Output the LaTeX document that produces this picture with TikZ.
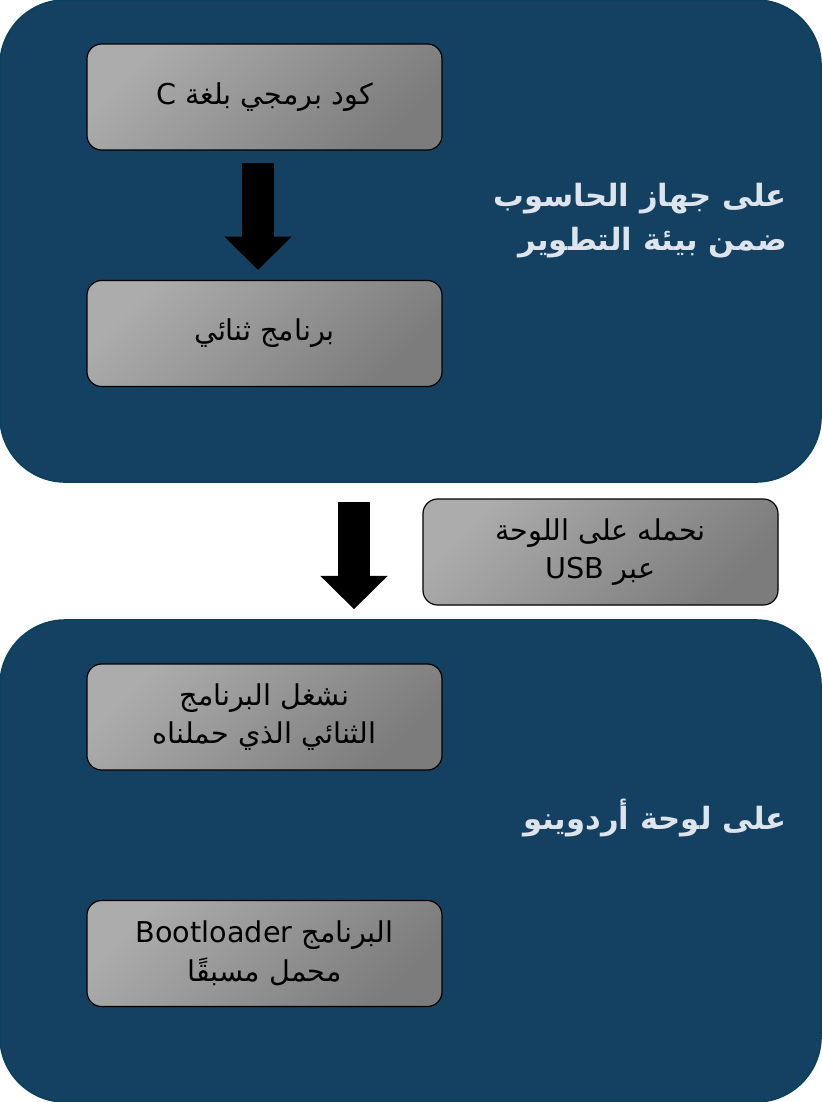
\documentclass[tikz,border=0pt]{standalone}
\usepackage{fontspec}
\newfontfamily\arabicfont[Script=Arabic]{DejaVu Sans}
\TeXXeTstate=1
\usetikzlibrary{arrows.meta,calc}
\definecolor{panelblue}{RGB}{20,64,97}
\definecolor{paneledge}{RGB}{10,66,90}
\definecolor{labelgray}{RGB}{222,228,235}
\definecolor{boxlight}{RGB}{172,172,172}
\definecolor{boxdark}{RGB}{124,124,124}
\tikzset{
  panel/.style={draw=paneledge, fill=panelblue, line width=1.2pt, rounded corners=49pt,
    minimum width=615.75pt, minimum height=361.5pt, inner sep=0pt},
  graybox/.style={draw=black, line width=0.9pt, rounded corners=11pt,
    top color=boxlight, bottom color=boxdark, shading angle=45,
    minimum width=266.25pt, minimum height=79.5pt, inner sep=0pt, align=center,
    font=\arabicfont\fontsize{21.5}{29}\selectfont},
  paneltext/.style={text=labelgray, align=right, inner sep=0pt,
    font=\arabicfont\bfseries\fontsize{23}{33}\selectfont},
  blockarrow/.style={line width=24pt, -{Triangle[width=49pt,length=25pt]}}
}
\begin{document}
\begin{tikzpicture}[x=0.75pt,y=0.75pt,yscale=-1,xscale=1]
\useasboundingbox (0,0) rectangle (821,1102);

%Panels
    \node [panel] (pc) at (410.5,241) {};
    \node [panel] (board) at (410.5,861) {};

%Gray boxes
    \node [graybox] (code) at (264.5,97) {\beginR كود برمجي بلغة C\endR};
    \node [graybox] (bin) at (264.5,333.5) {\beginR برنامج ثنائي\endR};
    \node [graybox] (usb) at (600.5,552) {\beginR نحمله على اللوحة\endR\\ \beginR عبر \beginL USB\endL\endR};
    \node [graybox] (run) at (264.5,717) {\beginR نشغل البرنامج\endR\\ \beginR الثنائي الذي حملناه\endR};
    \node [graybox] (boot) at (264.5,953.5) {\beginR البرنامج \beginL Bootloader\endL\endR\\ \beginR محمل مسبقًا\endR};

% Text Node
    \node [paneltext, anchor=east] (pclabel) at (787,221) {\beginR على جهاز الحاسوب\endR\\ \beginR ضمن بيئة التطوير\endR};
% Text Node
    \node [paneltext, anchor=east] (boardlabel) at (787,818) {\beginR على لوحة أردوينو\endR};

%Block arrows
    \draw [blockarrow] ($(code.south)+(-6.5,12)$) -- ($(bin.north)+(-6.5,-10)$);
    \draw [blockarrow] ($(pc.south)+(-56.5,19)$) -- ($(board.north)+(-56.5,-10)$);

\end{tikzpicture}
\end{document}
